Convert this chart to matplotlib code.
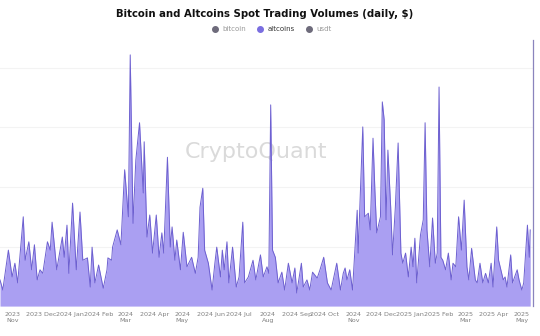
import numpy as np
import pandas as pd
import matplotlib
matplotlib.use("Agg")
import matplotlib.pyplot as plt
from matplotlib.lines import Line2D

# day offsets from 2023-10-18 and altcoin spot volume (bn $)
start = "2023-10-18"
days = [0, 3, 9, 13, 16, 19, 25, 27, 31, 34, 37, 40, 43, 46, 51, 54, 56, 59, 61, 67,
        69, 72, 74, 78, 82, 86, 89, 94, 97, 99, 102, 106, 111, 115, 116, 120, 121, 126, 130, 134,
        138, 140, 143, 146, 150, 154, 155, 158, 161, 164, 168, 171, 174, 176, 180, 183, 185, 188, 190, 194,
        197, 201, 206, 210, 213, 215, 218, 220, 224, 228, 231, 233, 237, 239, 241, 244, 246, 250, 254, 257,
        261, 263, 267, 272, 275, 280, 283, 287, 289, 291, 293, 296, 299, 303, 306, 310, 314, 317, 319, 324,
        326, 330, 333, 336, 341, 344, 348, 352, 356, 362, 366, 369, 371, 373, 376, 379, 384, 385, 390, 392,
        396, 398, 401, 403, 405, 409, 411, 413, 415, 417, 420, 422, 425, 428, 431, 433, 436, 439, 442, 444,
        446, 448, 452, 455, 457, 459, 462, 465, 468, 470, 472, 474, 476, 479, 482, 485, 487, 490, 493, 496,
        499, 502, 504, 507, 511, 513, 516, 519, 522, 525, 528, 530, 534, 536, 541, 543, 545, 549, 551, 556,
        558, 561, 563, 567, 569, 570]
altcoins = [4.4, 2.7, 9.4, 4.9, 7.2, 3.9, 15.0, 7.7, 10.8, 6.1, 10.3, 4.4, 6.1, 5.5, 10.8, 9.4, 14.1, 9.4, 6.1, 11.6,
            8.2, 13.6, 5.5, 17.3, 6.1, 15.8, 7.7, 8.1, 3.2, 9.9, 3.9, 6.9, 3.0, 6.1, 8.1, 7.7, 9.9, 12.8, 10.3, 22.9,
            15.0, 42.2, 13.9, 24.5, 30.8, 19.0, 27.6, 11.6, 15.3, 8.9, 15.3, 8.2, 12.3, 8.9, 25.0, 9.9, 13.3, 7.7, 11.1, 6.1,
            12.4, 6.6, 8.2, 5.5, 8.2, 16.6, 19.8, 9.4, 7.2, 2.7, 7.2, 9.9, 4.9, 9.4, 6.1, 10.8, 3.9, 9.9, 3.2, 4.9,
            14.1, 3.9, 4.9, 7.7, 4.4, 8.6, 4.9, 6.6, 5.5, 33.8, 9.4, 8.2, 3.9, 5.7, 2.7, 7.2, 3.9, 6.4, 2.2, 7.2,
            3.2, 4.4, 2.7, 5.7, 4.7, 6.1, 8.2, 3.9, 2.7, 7.2, 2.7, 5.5, 6.4, 4.4, 6.1, 2.7, 16.1, 8.9, 30.1, 15.0,
            15.6, 12.8, 28.2, 19.5, 12.3, 15.0, 34.3, 31.3, 14.5, 26.2, 16.6, 8.6, 16.6, 27.4, 8.9, 7.2, 8.9, 4.9, 9.9, 6.6,
            11.4, 3.9, 11.9, 14.5, 30.8, 12.8, 6.6, 14.8, 7.2, 8.9, 36.8, 8.2, 7.7, 6.1, 8.9, 4.4, 7.2, 6.6, 15.0, 9.4,
            17.8, 6.6, 4.4, 9.7, 4.4, 3.9, 7.2, 3.9, 5.5, 3.9, 7.2, 3.2, 13.3, 7.7, 4.4, 4.9, 3.2, 8.6, 3.9, 6.1,
            4.4, 2.7, 3.9, 13.6, 8.2, 12.8]

tick_months = ["2023-11-01", "2023-12-01", "2024-01-01", "2024-02-01", "2024-03-01", "2024-04-01",
               "2024-05-01", "2024-06-01", "2024-07-01", "2024-08-01", "2024-09-01", "2024-10-01",
               "2024-11-01", "2024-12-01", "2025-01-01", "2025-02-01", "2025-03-01", "2025-04-01",
               "2025-05-01"]
tick_labels = ["2023\nNov", "2023 Dec", "2024 Jan", "2024 Feb", "2024\nMar", "2024 Apr",
               "2024\nMay", "2024 Jun", "2024 Jul", "2024\nAug", "2024 Sep", "2024 Oct",
               "2024\nNov", "2024 Dec", "2025 Jan", "2025 Feb", "2025\nMar", "2025 Apr",
               "2025\nMay"]

dates = pd.to_datetime(start) + pd.to_timedelta(days, unit="D")

fig = plt.figure(figsize=(5.4, 3.36), dpi=100)
ax = fig.add_axes([0.0, 0.089, 533 / 540, 0.792])

ax.fill_between(dates, altcoins, 0, color="#aa9ff2", lw=0)
ax.plot(dates, altcoins, color="#6d60d0", lw=0.7)

ax.set_xlim(pd.to_datetime(start), pd.to_datetime(start) + pd.Timedelta(days=573))
ax.set_ylim(0, 44.7)
ax.set_yticks([10, 20, 30, 40])
ax.yaxis.grid(True, color="#f3f3f3", lw=0.8)
ax.set_axisbelow(True)
ax.tick_params(axis="y", left=False, labelleft=False)
ax.set_xticks(pd.to_datetime(tick_months))
ax.set_xticklabels(tick_labels, fontsize=4.6, color="#808080", linespacing=1.4)
ax.tick_params(axis="x", length=0, pad=4)

for s in ["top", "left", "bottom"]:
    ax.spines[s].set_visible(False)
ax.spines["right"].set_color("#8a84bd")
ax.spines["right"].set_linewidth(0.9)

# watermark
ax.text(0.48, 0.58, "CryptoQuant", transform=ax.transAxes, fontsize=16,
        color="#dadada", ha="center", va="center", zorder=0)

fig.text(0.49, 0.958, "Bitcoin and Altcoins Spot Trading Volumes (daily, $)",
         ha="center", va="center", fontsize=7.3, fontweight="bold", color="#111111")

handles = [Line2D([], [], marker="o", ls="", color="#6e6b7b", markersize=4),
           Line2D([], [], marker="o", ls="", color="#7a6ee0", markersize=4),
           Line2D([], [], marker="o", ls="", color="#6e6b7b", markersize=4)]
fig.legend(handles, ["bitcoin", "altcoins", "usdt"], loc="center", bbox_to_anchor=(0.5, 0.913),
           ncol=3, frameon=False, fontsize=5, handletextpad=0.1, columnspacing=1.0,
           labelcolor=["#999999", "#333333", "#999999"])

fig.savefig("out.png", dpi=100)
